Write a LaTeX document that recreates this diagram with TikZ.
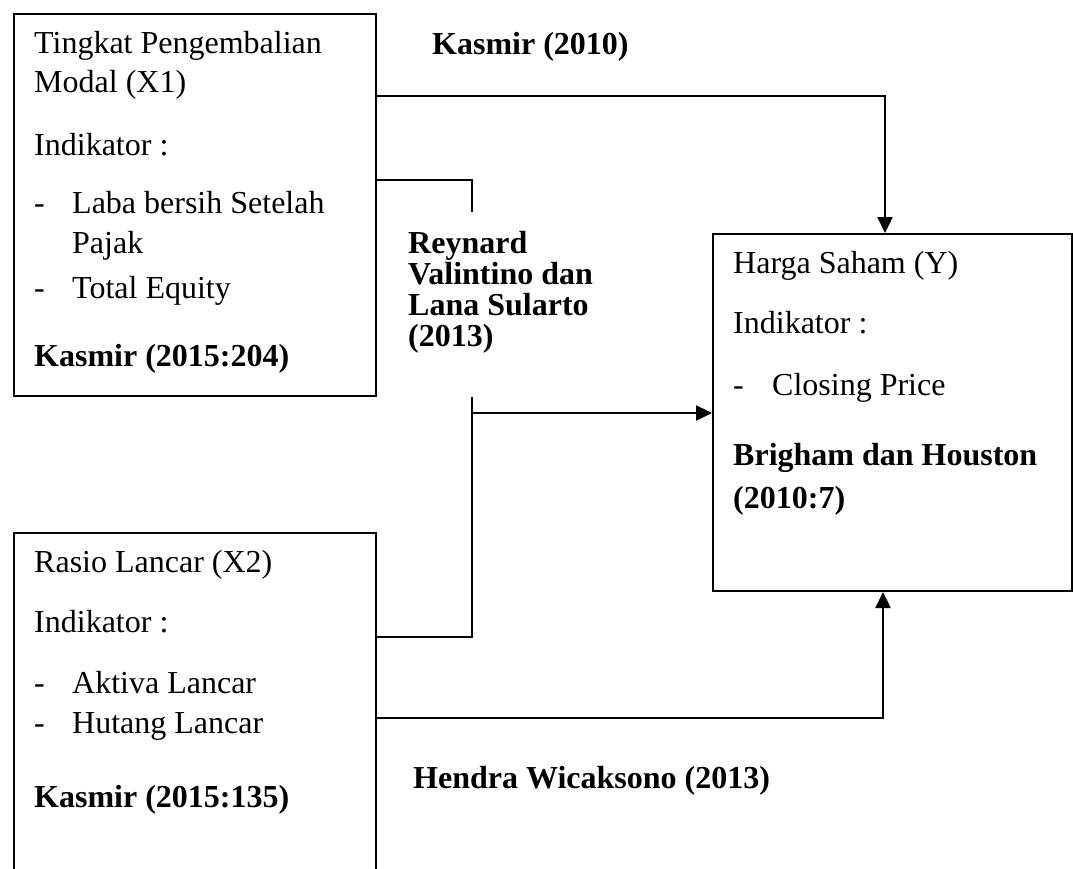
\documentclass[tikz,border=0pt]{standalone}
\usepackage{fontspec}
\setmainfont{Liberation Serif}
\usetikzlibrary{arrows.meta}
\tikzset{
  box/.style={draw,line width=2pt,anchor=north west,inner sep=0pt},
  txt/.style={anchor=base west,inner sep=0pt,font=\fontsize{32}{38}\selectfont},
  ref/.style={txt,font=\fontsize{32}{38}\selectfont\bfseries},
  link/.style={line width=2.4pt},
  arr/.style={link,-{Triangle[length=16pt,width=15pt]}}
}
\begin{document}
\begin{tikzpicture}[x=1pt,y=-1pt]
  \useasboundingbox (0,0) rectangle (1073,868);
  \clip (0,0) rectangle (1073,868);
  \node[box,minimum width=362,minimum height=382](X1) at (13,13){};
  \node[box,minimum width=362,minimum height=380](X2) at (13,532){};
  \node[box,minimum width=359,minimum height=357](Y) at (712,233){};
  \foreach \n/\a/\b/\t in {T11/34/53/Tingkat Pengembalian, T12/34/92/Modal (X1), T13/34/155/Indikator :,
      D11/34/213/-, T14/72/213/Laba bersih Setelah, T15/72/253/Pajak, D12/34/298/-, T16/72/298/Total Equity,
      T21/34/572/Rasio Lancar (X2), T22/34/632/Indikator :, D21/34/693/-, T23/72/693/Aktiva Lancar,
      D22/34/733/-, T24/72/733/Hutang Lancar,
      T31/733/273/Harga Saham (Y), T32/733/333/Indikator :, D31/733/395/-, T33/772/395/Closing Price}{
    \node[txt](\n) at (\a,\b){\t};
  }
  \foreach \n/\a/\b/\t in {B1/34/366/Kasmir (2015:204), B2/34/807/Kasmir (2015:135),
      B31/733/465/Brigham dan Houston, B32/733/508/(2010:7),
      L1/432/54/Kasmir (2010), L2/408/253/Reynard, L3/408/284/Valintino dan, L4/408/315/Lana Sularto,
      L5/408/346/(2013), L6/413/788/Hendra Wicaksono (2013)}{
    \node[ref](\n) at (\a,\b){\t};
  }
  \coordinate (R1) at (472,212);
  \coordinate (R2) at (472,397);
  \draw[arr](X1.east |- 0,96) -| (Y.north -| 885,0);
  \draw[link](X1.east |- 0,180) -| (R1);
  \draw[link](R2) |- (X2.east |- 0,637);
  \draw[arr](R2 |- 0,413) -- (Y.west |- 0,413);
  \draw[arr](X2.east |- 0,718) -| (Y.south -| 883,0);
\end{tikzpicture}
\end{document}
